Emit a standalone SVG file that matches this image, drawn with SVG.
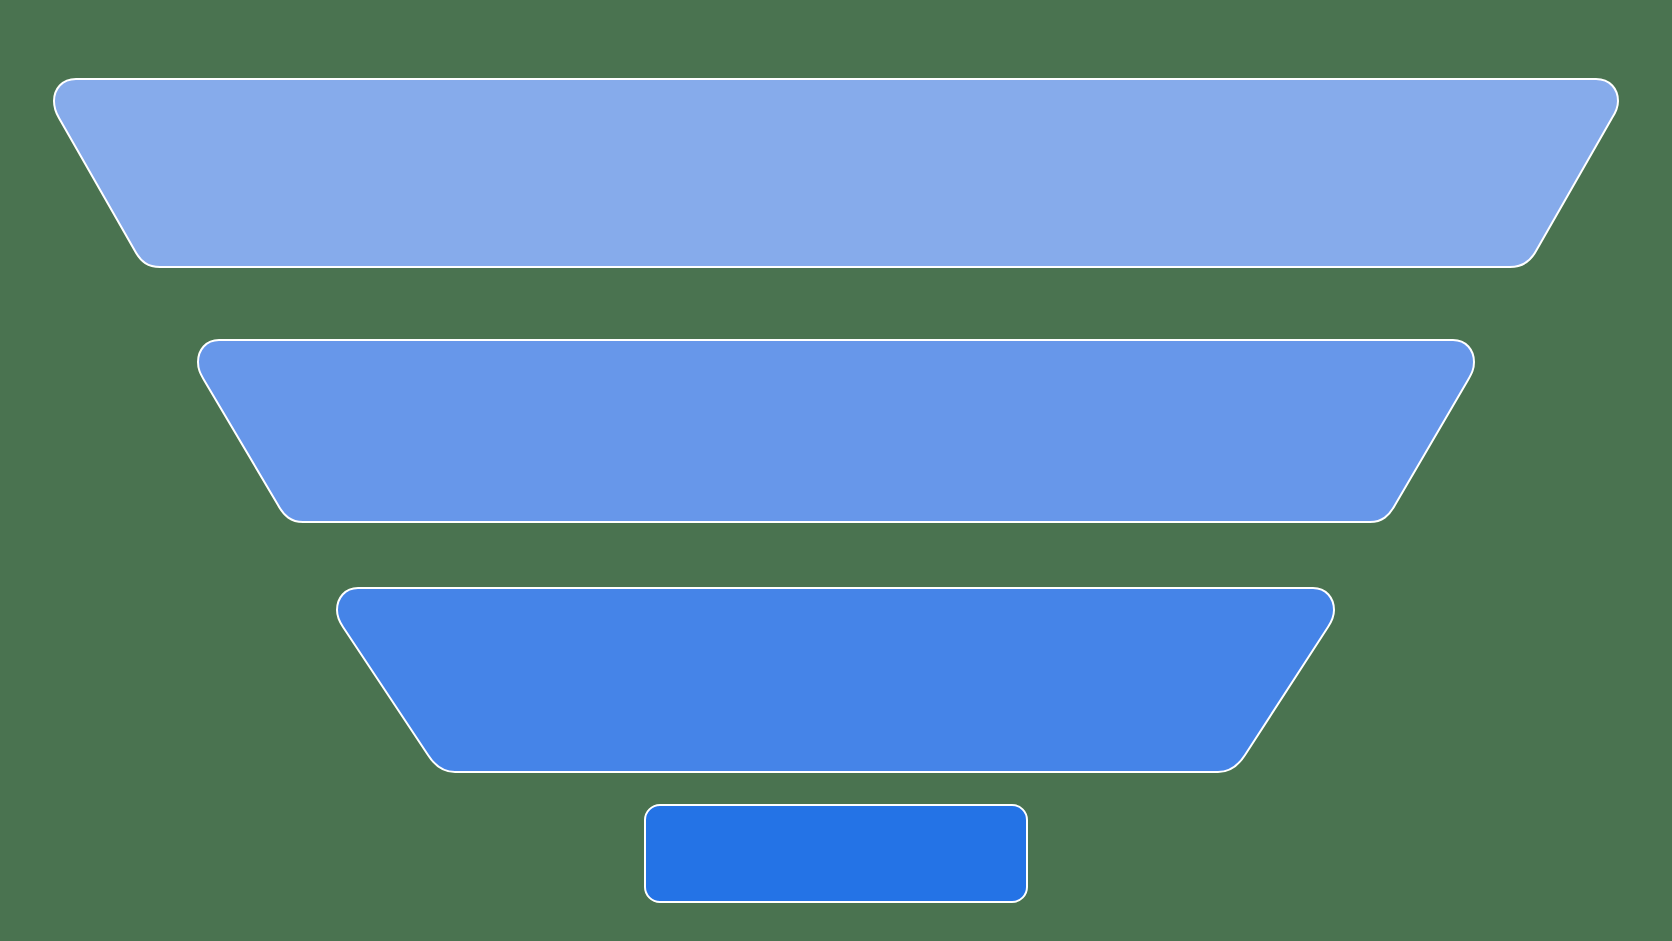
<svg xmlns="http://www.w3.org/2000/svg" width="1672" height="941" viewBox="0 0 1672 941">
<style>
.tier{stroke:#ffffff;stroke-width:2;stroke-linejoin:round}
</style>
<rect width="1672" height="941" fill="#4A7350"/>
<g id="tier1"><path class="tier" fill="#86ABEB" d="M 76,79 H 1596 C 1610,79 1618,89 1618,101 C 1618,108 1616,112 1612,118 L 1536,251 C 1530,262 1522,267 1510,267 H 160 C 148,267 141,262 135,251 L 59,118 C 56,113 54,108 54,101 C 54,89 62,79 76,79 Z"/></g>
<g id="tier2"><path class="tier" fill="#6797EA" d="M 219,340 H 1453 C 1466,340 1474,350 1474,362 C 1474,369 1472,373 1468,380 L 1395,505 C 1389,516 1382,522 1370,522 H 303 C 291,522 284,516 278,505 L 204,380 C 200,373 198,369 198,362 C 198,350 206,340 219,340 Z"/></g>
<g id="tier3"><path class="tier" fill="#4584E8" d="M 358,588 H 1313 C 1326,588 1334,598 1334,610 C 1334,617 1332,621 1328,627 L 1245,755 C 1238,766 1230,772 1218,772 H 455 C 443,772 435,766 428,755 L 343,627 C 339,621 337,617 337,610 C 337,598 345,588 358,588 Z"/></g>
<g id="tier4"><rect class="tier" fill="#2473E6" x="645" y="805" width="382" height="97" rx="15" ry="15"/></g>
</svg>
